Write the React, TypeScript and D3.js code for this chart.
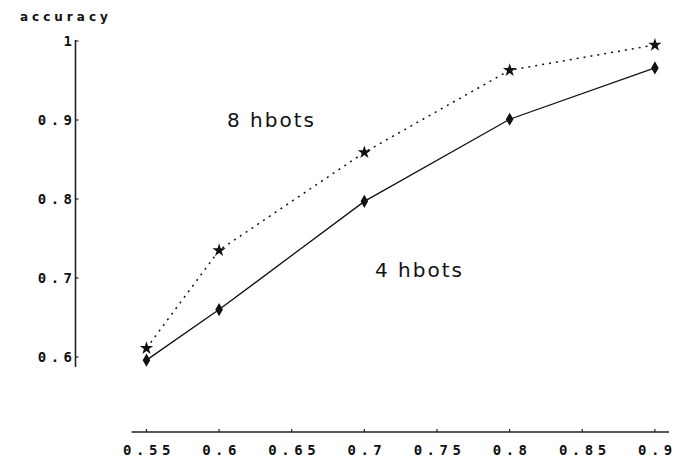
import * as d3 from 'd3'

const xValues = [0.55, 0.6, 0.7, 0.8, 0.9]
const hbots4 = [0.596, 0.66, 0.797, 0.901, 0.966]
const hbots8 = [0.611, 0.735, 0.859, 0.963, 0.995]
const xTicks = [0.55, 0.6, 0.65, 0.7, 0.75, 0.8, 0.85, 0.9]
const yTicks = [0.6, 0.7, 0.8, 0.9, 1]
const yTickLabels = ['0.6', '0.7', '0.8', '0.9', '1']

const W = 681
const H = 459

export default function App() {
  // axis range picked so the ticks land where the reference has them
  const x = d3.scaleLinear().domain([0.5397, 0.9097]).range([131.5, 669])
  const y = d3.scaleLinear().domain([0.5873, 1.0013]).range([367, 40])

  const line = d3.line<number>()
    .x((_, i) => x(xValues[i]))
    .y(d => y(d))

  const star = d3.symbol().type(d3.symbolStar).size(55)()
  const diamond = d3.symbol().type(d3.symbolDiamond).size(50)()

  const axisY0 = y.range()[0]
  const xAxisY = 432
  const yAxisX = x.range()[0] - 56

  const tickFont = {
    fontFamily: '"DejaVu Sans Mono", monospace',
    fontSize: 14,
    fontWeight: 'bold' as const,
    letterSpacing: 4.5,
    fill: '#111',
  }

  return (
    <svg
      width={W}
      height={H}
      style={{ position: 'absolute', left: 0, top: 0, background: '#fff' }}
    >
      {/* y axis */}
      <line x1={yAxisX} x2={yAxisX} y1={y.range()[1]} y2={axisY0} stroke="#222" strokeWidth={1.6} />
      {yTicks.map((t, i) => (
        <g key={t}>
          <line x1={yAxisX} x2={yAxisX + 3} y1={y(t)} y2={y(t)} stroke="#222" strokeWidth={1.2} />
          <text x={yAxisX + 1} y={y(t)} dy="0.35em" textAnchor="end" {...tickFont}>
            {yTickLabels[i]}
          </text>
        </g>
      ))}
      <text
        x={20}
        y={21}
        fontFamily='"DejaVu Sans", sans-serif'
        fontSize={12}
        fontWeight="bold"
        letterSpacing={4}
        fill="#111"
      >
        accuracy
      </text>

      {/* x axis */}
      <line x1={x.range()[0]} x2={x.range()[1]} y1={xAxisY} y2={xAxisY} stroke="#222" strokeWidth={1.4} />
      {xTicks.map(t => (
        <g key={t}>
          <line x1={x(t)} x2={x(t)} y1={xAxisY} y2={xAxisY - 3} stroke="#222" strokeWidth={1.2} />
          <text x={x(t) + 2.5} y={450} dy="0.35em" textAnchor="middle" {...tickFont}>
            {String(t)}
          </text>
        </g>
      ))}

      {/* series */}
      <path d={line(hbots8) ?? ''} fill="none" stroke="#111" strokeWidth={1.5} strokeDasharray="2 5" />
      <path d={line(hbots4) ?? ''} fill="none" stroke="#111" strokeWidth={1.3} />
      {hbots8.map((v, i) => (
        <path key={'s' + i} d={star ?? ''} transform={`translate(${x(xValues[i])},${y(v)})`} fill="#111" />
      ))}
      {hbots4.map((v, i) => (
        <path key={'d' + i} d={diamond ?? ''} transform={`translate(${x(xValues[i])},${y(v)})`} fill="#111" />
      ))}

      {/* labels */}
      <text x={227} y={120} dy="0.35em" fontFamily='"DejaVu Sans", sans-serif' fontSize={20} letterSpacing={2} fill="#111">
        8 hbots
      </text>
      <text x={375} y={270} dy="0.35em" fontFamily='"DejaVu Sans", sans-serif' fontSize={20} letterSpacing={2} fill="#111">
        4 hbots
      </text>
    </svg>
  )
}
